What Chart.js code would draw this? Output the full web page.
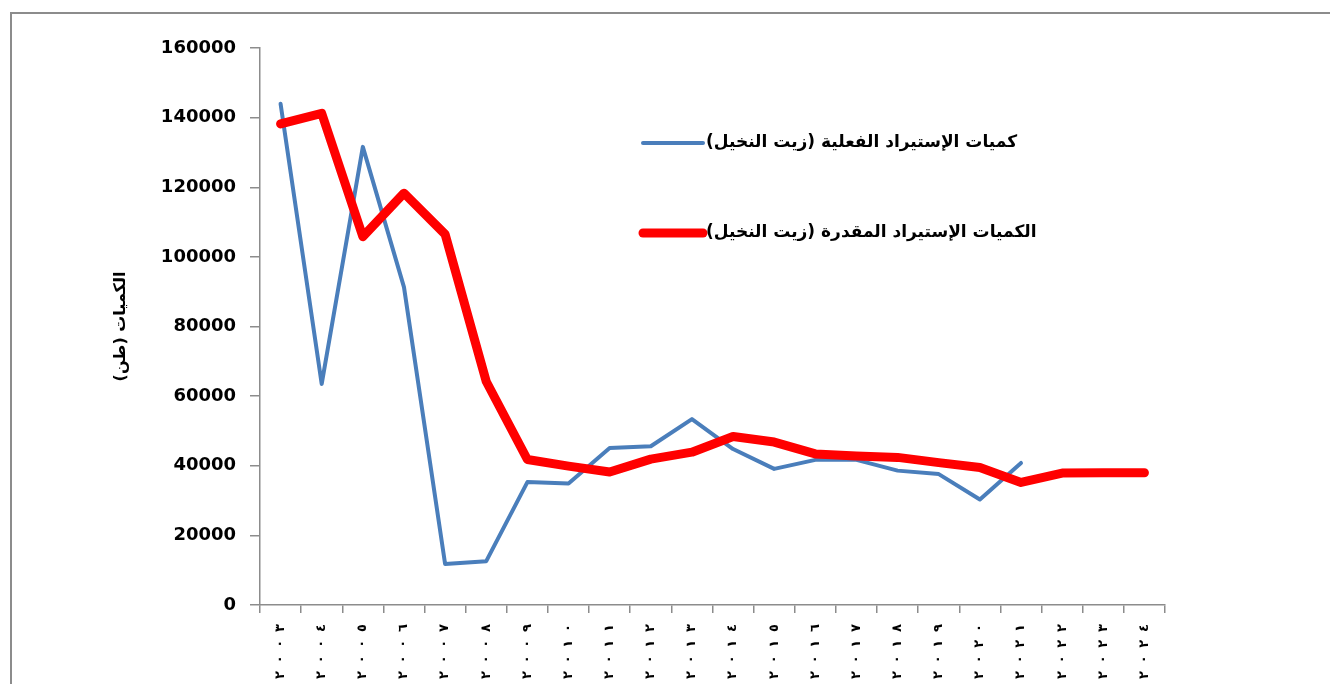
<!DOCTYPE html>
<html>
<head>
<meta charset="utf-8">
<script src="https://cdn.jsdelivr.net/npm/chart.js@4"></script>
<style>
  html, body { margin: 0; padding: 0; background: #fff; overflow: hidden; }
  #wrap { position: relative; width: 1330px; height: 684px; overflow: hidden; }
  #frame { position: absolute; left: 10px; top: 12px; width: 1400px; height: 760px;
           border-left: 2px solid #8c8c8c; border-top: 2px solid #8c8c8c; }
  canvas { position: absolute; left: 0; top: 0; }
</style>
</head>
<body>
<div id="wrap">
  <div id="frame"></div>
  <canvas id="chart1" width="1330" height="684"></canvas>
</div>
<script>
  // years 2003 - 2024 in Arabic-Indic digits
  const years = ["٢٠٠٣", "٢٠٠٤", "٢٠٠٥", "٢٠٠٦", "٢٠٠٧", "٢٠٠٨", "٢٠٠٩", "٢٠١٠", "٢٠١١", "٢٠١٢", "٢٠١٣",
                 "٢٠١٤", "٢٠١٥", "٢٠١٦", "٢٠١٧", "٢٠١٨", "٢٠١٩", "٢٠٢٠", "٢٠٢١", "٢٠٢٢", "٢٠٢٣", "٢٠٢٤"];

  const actual = [144000, 63500, 131600, 91300, 11800, 12600, 35300, 34900, 45100, 45600, 53400,
                  44800, 39100, 41700, 41700, 38600, 37600, 30300, 40800, null, null, null];

  const estimated = [138200, 141200, 105800, 118300, 106500, 64200, 41800, 39900, 38200, 41900, 43900,
                     48400, 46800, 43400, 42800, 42400, 40900, 39500, 35200, 37900, 38000, 38000];

  const yTicks = [0, 20000, 40000, 60000, 80000, 100000, 120000, 140000, 160000];

  const actualLabel = "كميات الإستيراد الفعلية (زيت النخيل)";
  const estimatedLabel = "الكميات الإستيراد المقدرة (زيت النخيل)";
  const yTitle = "الكميات (طن)";

  const axisColor = "#8c8c8c";
  const fontFamily = "'DejaVu Sans', sans-serif";

  const arabicText = {
    id: "arabicText",
    afterLayout: (chart) => {
      // y title is Arabic: draw it right-to-left so the brackets sit right
      const sy = chart.scales.y;
      if (sy && !sy._rtl) {
        const orig = sy.drawTitle.bind(sy);
        sy.drawTitle = (area) => {
          chart.ctx.save();
          chart.ctx.direction = "rtl";
          orig(area);
          chart.ctx.restore();
        };
        sy._rtl = true;
      }
    },
    afterDraw: (chart) => {
      const ctx = chart.ctx;
      const area = chart.chartArea;
      const sx = chart.scales.x;

      // year labels: digits turned on their side, spread out down the axis
      ctx.save();
      ctx.fillStyle = "#000";
      ctx.font = "bold 13px " + fontFamily;
      ctx.textAlign = "center";
      ctx.textBaseline = "middle";
      years.forEach((yr, i) => {
        const x = sx.getPixelForTick(i);
        const chars = [...yr];
        chars.forEach((c, k) => {
          const y = area.bottom + 23 + (chars.length - 1 - k) * 15.7;
          ctx.save();
          ctx.translate(x, y);
          ctx.rotate(-Math.PI / 2);
          ctx.fillText(c, 0, 0);
          ctx.restore();
        });
      });
      ctx.restore();

      // legend inside the plot area, line sample on the left, text after it
      const rows = [95, 185];
      ctx.save();
      chart.data.datasets.forEach((ds, i) => {
        const y = area.top + rows[i];
        const x0 = area.left + 383;
        ctx.strokeStyle = ds.borderColor;
        ctx.lineWidth = ds.borderWidth;
        ctx.lineCap = "round";
        ctx.beginPath();
        ctx.moveTo(x0, y);
        ctx.lineTo(x0 + 60, y);
        ctx.stroke();
        ctx.fillStyle = "#000";
        ctx.font = "bold 17px " + fontFamily;
        ctx.direction = "rtl";
        ctx.textAlign = "left";
        ctx.textBaseline = "middle";
        ctx.fillText(ds.label, x0 + 63, y);
      });
      ctx.restore();
    },
  };

  const config = {
    type: "line",
    data: {
      labels: years,
      datasets: [
        {
          label: actualLabel,
          data: actual,
          borderColor: "#4a7ebb",
          backgroundColor: "#4a7ebb",
          borderWidth: 4,
          pointRadius: 0,
          tension: 0,
          borderJoinStyle: "round",
          borderCapStyle: "round",
          order: 2,
        },
        {
          label: estimatedLabel,
          data: estimated,
          borderColor: "#ff0000",
          backgroundColor: "#ff0000",
          borderWidth: 9,
          pointRadius: 0,
          tension: 0,
          borderJoinStyle: "round",
          borderCapStyle: "round",
          order: 1,
        },
      ],
    },
    options: {
      responsive: false,
      animation: false,
      layout: { padding: { left: 100, top: 48, right: 165, bottom: 0 } },
      plugins: {
        legend: { display: false },
        tooltip: { enabled: false },
      },
      scales: {
        x: {
          offset: true,
          grid: {
            offset: true,
            drawOnChartArea: false,
            drawTicks: true,
            tickLength: 8,
            color: axisColor,
            lineWidth: 1.5,
          },
          border: { display: true, color: axisColor, width: 1.5 },
          ticks: {
            autoSkip: false,
            minRotation: 90,
            maxRotation: 90,
            color: "rgba(0,0,0,0)",
            font: { family: fontFamily, size: 13, weight: "bold" },
          },
          afterFit: (scale) => {
            scale.height = 79;
          },
        },
        y: {
          min: 0,
          max: 160000,
          afterBuildTicks: (scale) => {
            scale.ticks = yTicks.map((v) => ({ value: v }));
          },
          grid: {
            drawOnChartArea: false,
            drawTicks: true,
            tickLength: 10,
            color: axisColor,
            lineWidth: 1.5,
          },
          border: { display: true, color: axisColor, width: 1.5 },
          ticks: {
            padding: 14,
            color: "#000",
            font: { family: fontFamily, size: 18, weight: "bold" },
            callback: (v) => String(v),
          },
          title: {
            display: true,
            text: yTitle,
            color: "#000",
            padding: { top: 11, bottom: 0 },
            font: { family: fontFamily, size: 16, weight: "bold" },
          },
          afterFit: (scale) => {
            scale.width = 160;
          },
        },
      },
    },
    plugins: [arabicText],
  };

  const myChart = new Chart(document.getElementById("chart1"), config);
</script>
</body>
</html>
